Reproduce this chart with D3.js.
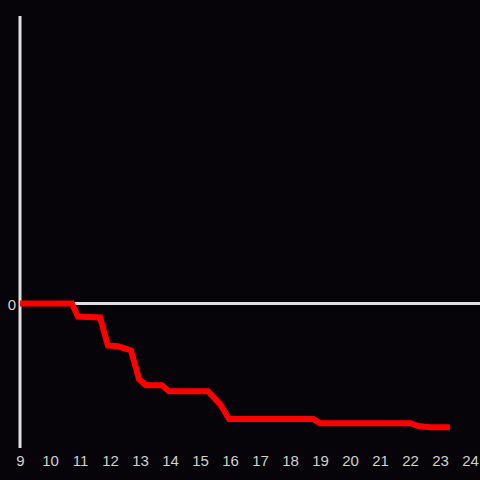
<!DOCTYPE html>
<html><head><meta charset="utf-8">
<script src="https://cdn.jsdelivr.net/npm/d3@7"></script>
<style>html,body{margin:0;padding:0;background:#060408;}svg{display:block;}</style>
</head><body>
<script>
const times = [9, 10.73, 10.93, 11.67, 11.93, 12.27, 12.7, 12.97, 13.2, 13.73, 13.97, 15.27, 15.67, 15.97, 18.77, 19.0, 22.03, 22.27, 22.67, 23.33];
const values = [0, 0, -0.45, -0.48, -1.45, -1.48, -1.62, -2.62, -2.83, -2.83, -3.04, -3.04, -3.48, -4.0, -4.0, -4.14, -4.14, -4.24, -4.28, -4.28];
const xTicks = [9,10,11,12,13,14,15,16,17,18,19,20,21,22,23,24];
const yTicks = [0];

const W = 480, H = 480;
const svg = d3.select("body").append("svg").attr("width", W).attr("height", H);
svg.append("rect").attr("width", W).attr("height", H).attr("fill", "#060408");

const x = d3.scaleLinear().domain([9, 24]).range([20, 470]);
const y = d3.scaleLinear().domain([-5, 9.95]).range([448, 16]);

// y axis line
svg.append("line").attr("x1", 20).attr("x2", 20).attr("y1", y.range()[1]).attr("y2", y.range()[0])
  .attr("stroke", "#e0e0e0").attr("stroke-width", 3);
// zero line
svg.append("line").attr("x1", 20).attr("x2", 480).attr("y1", y(0)).attr("y2", y(0))
  .attr("stroke", "#e0e0e0").attr("stroke-width", 3);

const font = "Liberation Sans, Arial, sans-serif";
// x tick labels
const xa = svg.append("g").attr("transform", `translate(0,${y.range()[0]})`)
  .call(d3.axisBottom(x).tickValues(xTicks).tickSize(0).tickPadding(7).tickFormat(d3.format("d")));
xa.select(".domain").remove();
xa.selectAll("text").attr("fill", "#d0d0d0").attr("font-family", font).attr("font-size", 15);

// y tick labels
const ya = svg.append("g").attr("transform", `translate(20,0)`)
  .call(d3.axisLeft(y).tickValues(yTicks).tickSize(0).tickPadding(4).tickFormat(d3.format("d")));
ya.select(".domain").remove();
ya.selectAll("text").attr("fill", "#d0d0d0").attr("font-family", font).attr("font-size", 15).attr("dy", "0.4em");

const data = times.map((t, i) => ({t, v: values[i]}));
svg.append("path").datum(data)
  .attr("fill", "none").attr("stroke", "#ff0000").attr("stroke-width", 6)
  .attr("stroke-linejoin", "miter")
  .attr("d", d3.line().x(d => x(d.t)).y(d => y(d.v)));
</script>
</body></html>
